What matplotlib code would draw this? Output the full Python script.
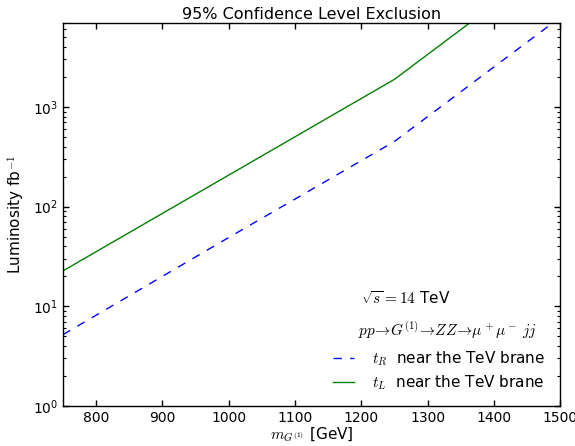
import matplotlib
matplotlib.use("Agg")
import matplotlib.pyplot as plt
import numpy as np

plt.rcParams['mathtext.fontset'] = 'cm'
plt.rcParams['font.family'] = ['DejaVu Sans']

mass = [750, 1000, 1250, 1500]
lumi_tR = [5.2, 49, 450, 7900]
lumi_tL = [22.7, 207, 1890, 33300]

fig = plt.figure(figsize=(5.75, 4.46), dpi=100)
ax = fig.add_axes([0.1096, 0.0897, 0.8644, 0.8594])

ax.plot(mass, lumi_tR, color='blue', linestyle='--', linewidth=1.0,
        dashes=(6, 6), label=r'$t_R$  near the TeV brane')
ax.plot(mass, lumi_tL, color='green', linestyle='-', linewidth=1.0,
        label=r'$t_L$  near the TeV brane')

ax.set_yscale('log')
ax.set_xlim(750, 1500)
ax.set_ylim(1, 7000)
ax.set_xticks([800, 900, 1000, 1100, 1200, 1300, 1400, 1500])

ax.tick_params(which='both', direction='in', top=True, right=True, labelsize=10)
ax.tick_params(which='major', length=4, width=1)
ax.tick_params(which='minor', length=2, width=0.8)
ax.tick_params(axis='x', which='minor', bottom=False, top=False)
for s in ax.spines.values():
    s.set_linewidth(1.0)

ax.set_title('95% Confidence Level Exclusion', fontsize=11.5, pad=3)
ax.set_xlabel(r'$m_{G^{(1)}}$ [GeV]', fontsize=11, labelpad=1)
ax.set_ylabel(r'Luminosity fb$^{-1}$', fontsize=11)

ax.text(1200, 12.1, r'$\sqrt{s}=14$ TeV', fontsize=11, va='center')
ax.text(1195, 5.8, r'$pp\!\to\! G^{(1)}\!\to\! ZZ\!\to\!\mu^+\mu^-\;jj$',
        fontsize=11, va='center')

ax.legend(loc='lower right', frameon=False, fontsize=11, handlelength=1.4,
          handletextpad=1.15, bbox_to_anchor=(0.997, 0.0), labelspacing=0.35)

fig.savefig('out.png', dpi=100)
